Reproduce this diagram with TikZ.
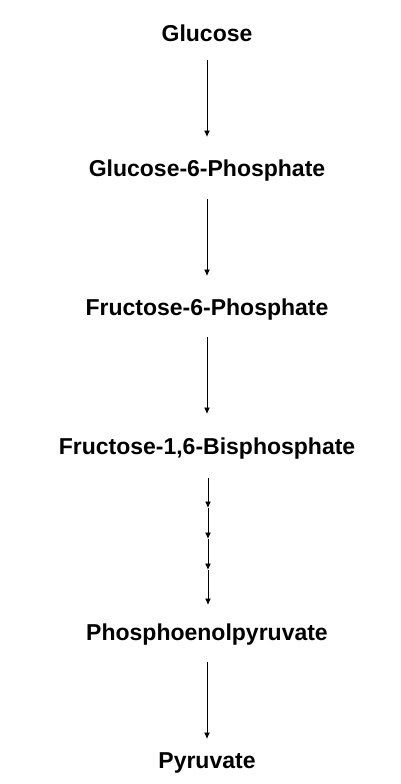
\documentclass[tikz,border=0pt]{standalone}
\usepackage{fontspec}
\setmainfont{Liberation Sans}
\usetikzlibrary{arrows.meta}
\begin{document}
\begin{tikzpicture}[x=1pt,y=-1pt,
  lbl/.style={font=\bfseries\fontsize{23}{26}\selectfont, inner sep=0pt, anchor=center},
  arr/.style={-{Latex[length=6.5pt,width=6pt]}, line width=0.9pt},
  seg/.style={-{Latex[length=6.5pt,width=6pt]}, line width=0.9pt}]
\useasboundingbox (0,0) rectangle (400,784);
\node[lbl] (glc) at (207,33) {Glucose};
\node[lbl] (g6p) at (207,171) {Glucose-6-Phosphate};
\node[lbl] (f6p) at (207,310) {Fructose-6-Phosphate};
\node[lbl] (f16) at (207,449) {Fructose-1,6-Bisphosphate};
\node[lbl] (pep) at (207,635) {Phosphoenolpyruvate};
\node[lbl] (pyr) at (207,763) {Pyruvate};
\coordinate (a1) at (207,60);  \coordinate (a2) at (207,137);
\coordinate (b1) at (207,199); \coordinate (b2) at (207,276);
\coordinate (c1) at (207,337); \coordinate (c2) at (207,414);
\coordinate (d0) at (208,478);
\coordinate (d1) at (208,508);
\coordinate (d2) at (208,539);
\coordinate (d3) at (208,570);
\coordinate (d4) at (208,605);
\coordinate (e1) at (207,662); \coordinate (e2) at (207,739);
\draw[arr] (a1) -- (a2);
\draw[arr] (b1) -- (b2);
\draw[arr] (c1) -- (c2);
\draw[seg] (d0) -- (d1);
\draw[seg] (d1) -- (d2);
\draw[seg] (d2) -- (d3);
\draw[seg] (d3) -- (d4);
\draw[arr] (e1) -- (e2);
\end{tikzpicture}
\end{document}
